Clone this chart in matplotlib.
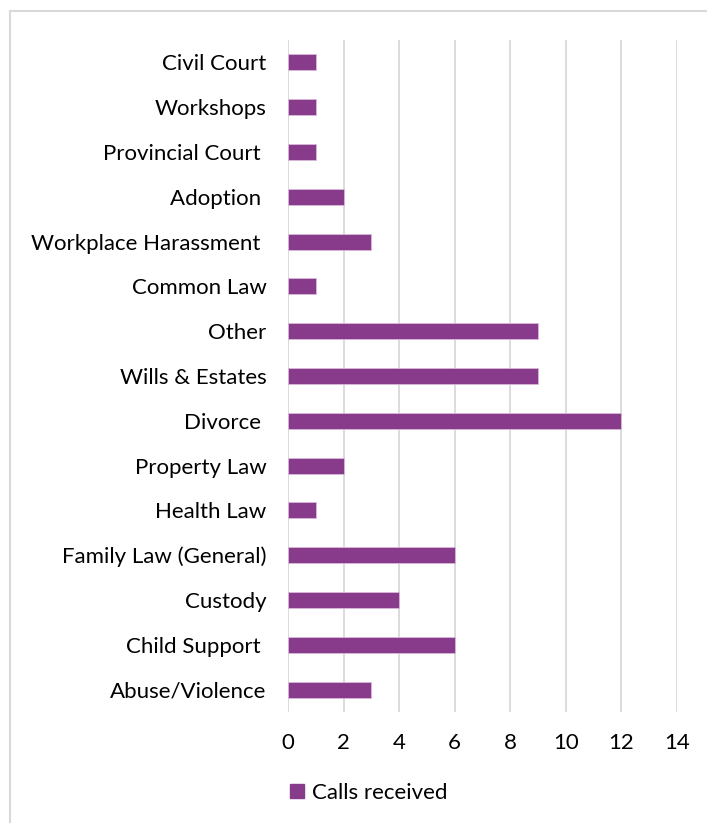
import matplotlib.pyplot as plt
from matplotlib.lines import Line2D
from matplotlib.patches import Patch

plt.rcParams['font.family'] = ['Lato', 'DejaVu Sans']

# Categories from bottom to top
categories = ["Abuse/Violence", "Child Support ", "Custody", "Family Law (General)",
              "Health Law", "Property Law", "Divorce ", "Wills & Estates", "Other",
              "Common Law", "Workplace Harassment ", "Adoption ", "Provincial Court ",
              "Workshops", "Civil Court"]
calls = [3, 6, 4, 6, 1, 2, 12, 9, 9, 1, 3, 2, 1, 1, 1]
xticks = [0, 2, 4, 6, 8, 10, 12, 14]

bar_color = "#893B8B"
grid_color = "#D9D9D9"

fig = plt.figure(figsize=(7.07, 8.23), dpi=100)
ax = fig.add_axes([0.4074, 0.1349, 0.5502, 0.8165])

ax.barh(range(len(categories)), calls, height=0.36, color=bar_color,
        edgecolor="#D8B8DA", linewidth=0.6, zorder=3, label="Calls received")

ax.set_xlim(0, 14)
ax.set_ylim(-0.5, len(categories) - 0.5)
ax.set_xticks(xticks)
ax.set_yticks(range(len(categories)))
ax.set_yticklabels(categories)
ax.tick_params(axis="both", length=0, labelsize=16, colors="black")
ax.tick_params(axis="y", pad=15.5)
ax.tick_params(axis="x", pad=15)
ax.xaxis.grid(True, color=grid_color, linewidth=1.3, zorder=0)
for s in ax.spines.values():
    s.set_visible(False)

# Chart frame (only left and top edges visible in the crop)
fig.add_artist(Line2D([10 / 707, 10 / 707], [0, 1 - 11 / 823],
                      transform=fig.transFigure, color=grid_color, linewidth=1.5))
fig.add_artist(Line2D([10 / 707, 1], [1 - 11 / 823, 1 - 11 / 823],
                      transform=fig.transFigure, color=grid_color, linewidth=1.5))

handle = Patch(facecolor=bar_color, edgecolor=bar_color)
fig.legend([handle], ["Calls received"], loc="center", bbox_to_anchor=(0.522, 1 - 793 / 823),
           frameon=False, fontsize=16, handlelength=0.6, handleheight=0.6, handletextpad=0.4)

fig.savefig("out.png", dpi=100, facecolor="white")
